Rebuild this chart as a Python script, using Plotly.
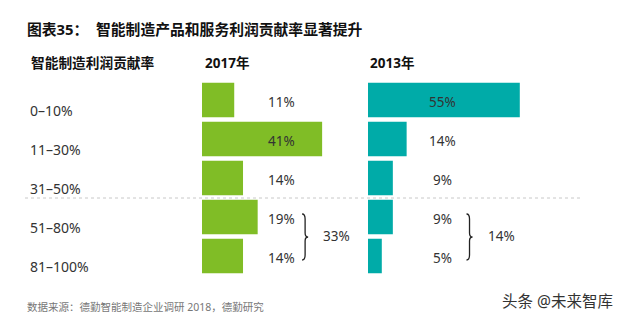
import plotly.graph_objects as go

# ---------------- data ----------------
categories = ["0–10%", "11–30%", "31–50%", "51–80%", "81–100%"]
values_2017 = [11, 41, 14, 19, 14]
values_2013 = [55, 14, 9, 9, 5]
year_labels = ["2017年", "2013年"]
grouped_rows = [3, 4]  # rows summed by the brace

title_text = "图表35：  智能制造产品和服务利润贡献率显著提升"
header_text = "智能制造利润贡献率"
source_text = "数据来源：德勤智能制造企业调研 2018，德勤研究"
watermark_text = "头条 @未来智库"

# ---------------- style ----------------
W, H = 620, 327
GREEN = "#80BD26"
TEAL = "#00ABA8"
TXT = "#333333"
FONT = "Noto Sans, Noto Sans CJK SC, sans-serif"

def px(x):
    return x / W

def py(y):
    return 1 - y / H

# axes layout (pixels)
x1_left, x1_right, x1_scale = 202, 360, 2.93
x2_left, x2_right, x2_scale = 368, 620, 2.76
y_top, y_bot = 80.5, 275.5
n = len(categories)
pitch = (y_bot - y_top) / n

def row_center(i):
    return y_top + pitch * (i + 0.5)

def x1_px(v):
    return x1_left + v * x1_scale

def x2_px(v):
    return x2_left + v * x2_scale

fig = go.Figure()
fig.add_trace(go.Bar(x=values_2017, y=categories, orientation="h",
                     marker=dict(color=GREEN, line=dict(width=0)),
                     xaxis="x", yaxis="y", hoverinfo="skip"))
fig.add_trace(go.Bar(x=values_2013, y=categories, orientation="h",
                     marker=dict(color=TEAL, line=dict(width=0)),
                     xaxis="x2", yaxis="y", hoverinfo="skip"))

ann = []
label_pos = 27
for i, c in enumerate(categories):
    ann.append(dict(x=label_pos, y=c, xref="x", yref="y", text=f"{values_2017[i]}%",
                    showarrow=False, font=dict(size=13.5, color=TXT), yshift=-2))
    ann.append(dict(x=label_pos, y=c, xref="x2", yref="y", text=f"{values_2013[i]}%",
                    showarrow=False, font=dict(size=13.5, color=TXT), yshift=-2))
    ann.append(dict(x=px(28), y=py(row_center(i) + 10), xref="paper", yref="paper",
                    text=c, showarrow=False, xanchor="left", yanchor="middle",
                    font=dict(size=14, color=TXT)))

# headers
ann.append(dict(x=px(25), y=py(29), xref="paper", yref="paper", text=f"<b>{title_text}</b>",
                showarrow=False, xanchor="left", yanchor="middle",
                font=dict(size=14.8, color="#111111")))
ann.append(dict(x=px(29), y=py(63), xref="paper", yref="paper", text=f"<b>{header_text}</b>",
                showarrow=False, xanchor="left", yanchor="middle",
                font=dict(size=13.7, color="#111111")))
ann.append(dict(x=px(x1_left + 1), y=py(63), xref="paper", yref="paper", text=f"<b>{year_labels[0]}</b>",
                showarrow=False, xanchor="left", yanchor="middle",
                font=dict(size=13.5, color="#111111")))
ann.append(dict(x=px(x2_left), y=py(63), xref="paper", yref="paper", text=f"<b>{year_labels[1]}</b>",
                showarrow=False, xanchor="left", yanchor="middle",
                font=dict(size=13.5, color="#111111")))
ann.append(dict(x=px(25), y=py(307), xref="paper", yref="paper", text=source_text,
                showarrow=False, xanchor="left", yanchor="middle",
                font=dict(size=10.5, color="#777777")))
ann.append(dict(x=px(615), y=py(301), xref="paper", yref="paper", text=watermark_text,
                showarrow=False, xanchor="right", yanchor="middle",
                font=dict(size=15.5, color="#333333")))

shapes = []
# dotted separator between rows 2 and 3
ysep = (row_center(2) + row_center(3)) / 2 + 0.5
shapes.append(dict(type="line", xref="paper", yref="paper", x0=px(25), x1=px(581),
                   y0=py(ysep), y1=py(ysep),
                   line=dict(color="#C8C8C8", width=1, dash="3px,3px")))

# braces with sums
def brace(xl, ytop, ybot):
    xm = xl + 3
    xt = xl + 6
    ymid = (ytop + ybot) / 2
    pts = (f"M {px(xl)},{py(ytop)} "
           f"Q {px(xm)},{py(ytop)} {px(xm)},{py(ytop + 5)} "
           f"L {px(xm)},{py(ymid - 4)} "
           f"Q {px(xm)},{py(ymid)} {px(xt)},{py(ymid)} "
           f"Q {px(xm)},{py(ymid)} {px(xm)},{py(ymid + 4)} "
           f"L {px(xm)},{py(ybot - 5)} "
           f"Q {px(xm)},{py(ybot)} {px(xl)},{py(ybot)}")
    return dict(type="path", xref="paper", yref="paper", path=pts,
                line=dict(color="#222222", width=1.3))

b_top = row_center(grouped_rows[0]) - 3
b_bot = row_center(grouped_rows[1]) + 4
sum17 = sum(values_2017[i] for i in grouped_rows)
sum13 = sum(values_2013[i] for i in grouped_rows)
bx1 = x1_px(label_pos) + 21
bx2 = x2_px(label_pos) + 24
shapes.append(brace(bx1, b_top, b_bot))
shapes.append(brace(bx2, b_top, b_bot))
ymid = (b_top + b_bot) / 2
ann.append(dict(x=px(bx1 + 19), y=py(ymid - 1), xref="paper", yref="paper", text=f"{sum17}%",
                showarrow=False, xanchor="left", yanchor="middle", font=dict(size=13.5, color=TXT)))
ann.append(dict(x=px(bx2 + 19), y=py(ymid - 1), xref="paper", yref="paper", text=f"{sum13}%",
                showarrow=False, xanchor="left", yanchor="middle", font=dict(size=13.5, color=TXT)))

fig.update_layout(
    width=W, height=H,
    margin=dict(l=0, r=0, t=0, b=0),
    paper_bgcolor="white", plot_bgcolor="rgba(0,0,0,0)",
    showlegend=False,
    bargap=0.12,
    font=dict(family=FONT, color=TXT),
    xaxis=dict(domain=[px(x1_left), px(x1_right)], range=[0, (x1_right - x1_left) / x1_scale],
               visible=False, fixedrange=True),
    xaxis2=dict(domain=[px(x2_left), px(x2_right)], range=[0, (x2_right - x2_left) / x2_scale],
                visible=False, fixedrange=True),
    yaxis=dict(domain=[py(y_bot), py(y_top)], autorange="reversed", visible=False,
               type="category", fixedrange=True),
    annotations=ann,
    shapes=shapes,
)

fig.write_html("out.html", config={"displayModeBar": False})
